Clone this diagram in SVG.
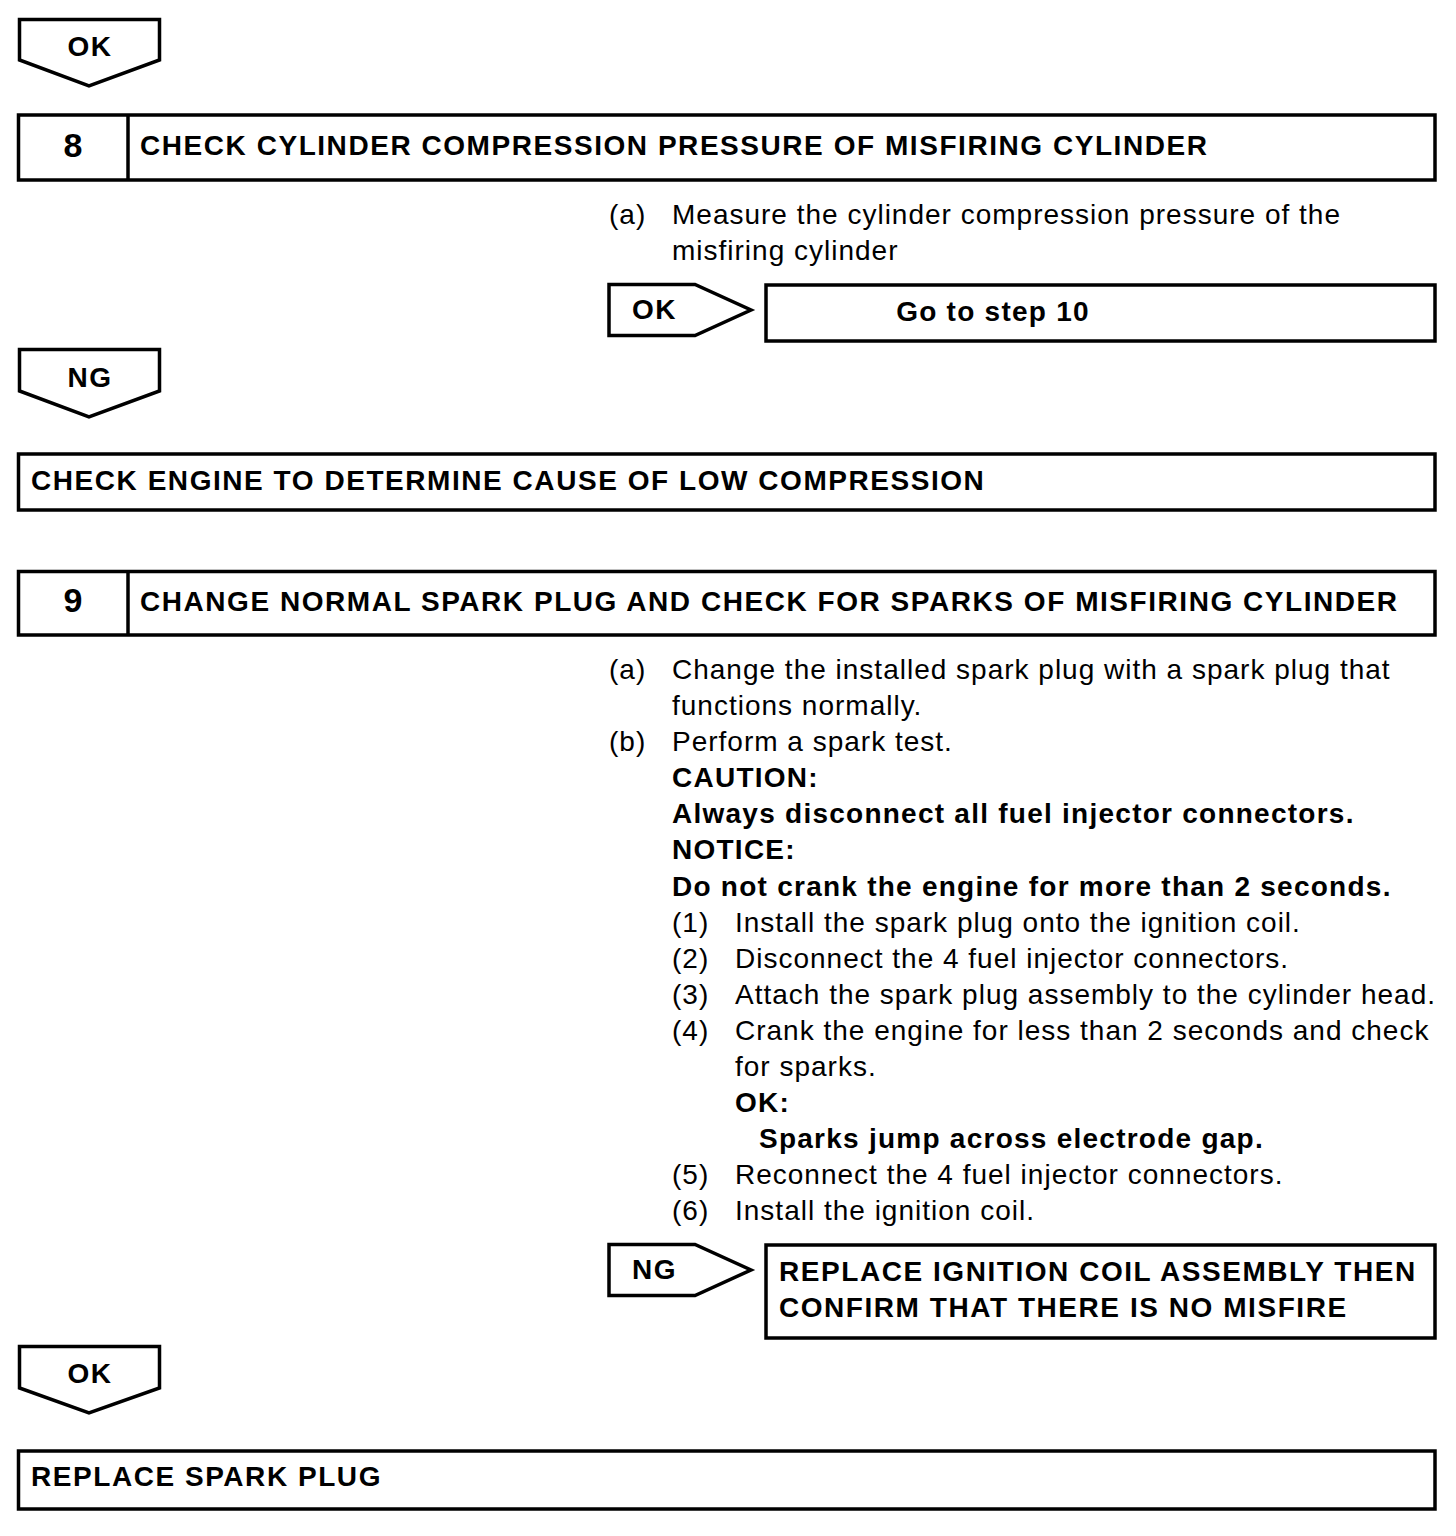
<svg xmlns="http://www.w3.org/2000/svg" width="1456" height="1536" viewBox="0 0 1456 1536">
<style>
.s{fill:#fff;stroke:#000;stroke-width:3.5}
.b{font-family:"Liberation Sans",Arial,sans-serif;font-weight:bold;font-size:28px;letter-spacing:1.25px;fill:#000}
.c{font-family:"Liberation Sans",Arial,sans-serif;font-weight:bold;font-size:28px;letter-spacing:1.55px;fill:#000}
.n{font-family:"Liberation Sans",Arial,sans-serif;font-size:28px;letter-spacing:1px;fill:#000}
.m{text-anchor:middle}
</style>
<rect width="1456" height="1536" fill="#fff"/>
<g id="connectors">
<g id="ok-down-1"><polygon class="s" points="19.5,19.5 159.5,19.5 159.5,60 89,86 19.5,60"/><text class="c m" x="90" y="56">OK</text></g>
<g id="ok-right-8"><polygon class="s" points="609,284.5 695,284.5 751,310 695,335.5 609,335.5"/><text class="c" x="632" y="319">OK</text></g>
<g id="ng-down-8"><polygon class="s" points="19.5,349.5 159.5,349.5 159.5,391 89,417 19.5,391"/><text class="c m" x="90" y="387">NG</text></g>
<g id="ng-right-9"><polygon class="s" points="609,1244.5 695,1244.5 751,1270 695,1295.5 609,1295.5"/><text class="c" x="632" y="1279">NG</text></g>
<g id="ok-down-9"><polygon class="s" points="19.5,1346.5 159.5,1346.5 159.5,1388 89,1413 19.5,1388"/><text class="c m" x="90" y="1383">OK</text></g>
</g>
<g id="step8">
<rect class="s" x="18.5" y="115" width="1416.5" height="65"/>
<line class="s" x1="128" y1="115" x2="128" y2="180"/>
<text class="b m" x="73" y="157" style="font-size:34px;letter-spacing:0">8</text>
<text class="c" x="140" y="155">CHECK CYLINDER COMPRESSION PRESSURE OF MISFIRING CYLINDER</text>
</g>
<g id="step8-text">
<text class="n" x="609" y="224">(a)</text>
<text class="n" x="672" y="224">Measure the cylinder compression pressure of the</text>
<text class="n" x="672" y="260">misfiring cylinder</text>
</g>
<g id="goto10">
<rect class="s" x="766" y="285" width="669" height="56"/>
<text class="b m" x="993" y="321">Go to step 10</text>
</g>
<g id="check-engine">
<rect class="s" x="18.5" y="454" width="1416.5" height="56"/>
<text class="c" x="31" y="490">CHECK ENGINE TO DETERMINE CAUSE OF LOW COMPRESSION</text>
</g>
<g id="step9">
<rect class="s" x="18.5" y="571.5" width="1416.5" height="63.5"/>
<line class="s" x1="128" y1="571.5" x2="128" y2="635"/>
<text class="b m" x="73" y="612" style="font-size:34px;letter-spacing:0">9</text>
<text class="c" x="140" y="611">CHANGE NORMAL SPARK PLUG AND CHECK FOR SPARKS OF MISFIRING CYLINDER</text>
</g>
<g id="step9-text">
<text class="n" x="609" y="679">(a)</text>
<text class="n" x="672" y="679">Change the installed spark plug with a spark plug that</text>
<text class="n" x="672" y="715">functions normally.</text>
<text class="n" x="609" y="751">(b)</text>
<text class="n" x="672" y="751">Perform a spark test.</text>
<text class="b" x="672" y="787">CAUTION:</text>
<text class="b" x="672" y="823">Always disconnect all fuel injector connectors.</text>
<text class="b" x="672" y="859">NOTICE:</text>
<text class="b" x="672" y="896">Do not crank the engine for more than 2 seconds.</text>
<text class="n" x="672" y="932">(1)</text>
<text class="n" x="735" y="932">Install the spark plug onto the ignition coil.</text>
<text class="n" x="672" y="968">(2)</text>
<text class="n" x="735" y="968">Disconnect the 4 fuel injector connectors.</text>
<text class="n" x="672" y="1004">(3)</text>
<text class="n" x="735" y="1004">Attach the spark plug assembly to the cylinder head.</text>
<text class="n" x="672" y="1040">(4)</text>
<text class="n" x="735" y="1040">Crank the engine for less than 2 seconds and check</text>
<text class="n" x="735" y="1076">for sparks.</text>
<text class="b" x="735" y="1112">OK:</text>
<text class="b" x="759" y="1148">Sparks jump across electrode gap.</text>
<text class="n" x="672" y="1184">(5)</text>
<text class="n" x="735" y="1184">Reconnect the 4 fuel injector connectors.</text>
<text class="n" x="672" y="1220">(6)</text>
<text class="n" x="735" y="1220">Install the ignition coil.</text>
</g>
<g id="replace-coil">
<rect class="s" x="766" y="1245" width="669" height="93"/>
<text class="c" x="779" y="1281">REPLACE IGNITION COIL ASSEMBLY THEN</text>
<text class="c" x="779" y="1317">CONFIRM THAT THERE IS NO MISFIRE</text>
</g>
<g id="replace-plug">
<rect class="s" x="18.5" y="1451" width="1416.5" height="58"/>
<text class="c" x="31" y="1486">REPLACE SPARK PLUG</text>
</g>
</svg>
